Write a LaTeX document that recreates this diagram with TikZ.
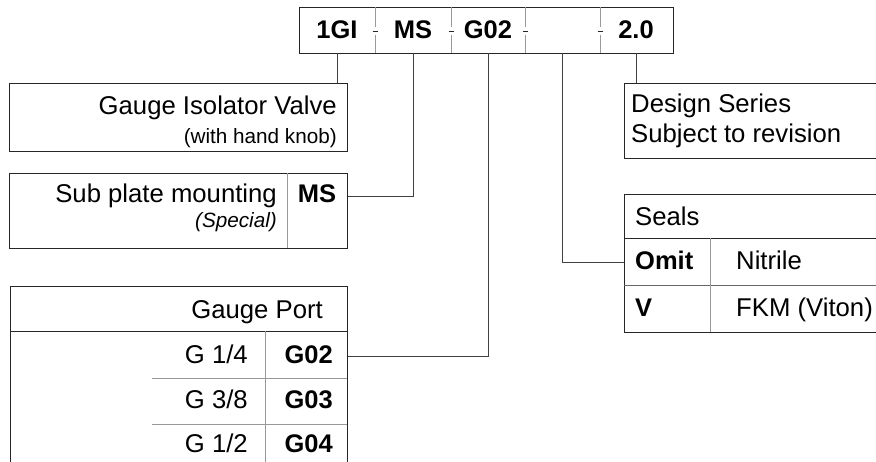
\documentclass[tikz,border=0pt]{standalone}
\usepackage{fontspec}
\setmainfont{Liberation Sans}
\usetikzlibrary{positioning,calc}
\tikzset{
  boxline/.style={draw=black!85,line width=1pt},
  gridline/.style={draw=black!40,line width=1pt},
  rowline/.style={draw=black!60,line width=1pt},
  link/.style={draw=black!75,line width=1pt},
  bigtxt/.style={font=\fontsize{25.7}{30}\selectfont,inner sep=0pt},
  smalltxt/.style={font=\fontsize{20.7}{24}\selectfont,inner sep=0pt},
  codetxt/.style={font=\fontsize{25.5}{30}\selectfont\bfseries,inner sep=0pt}
}
\begin{document}
\begin{tikzpicture}[x=1pt,y=-1pt]
\useasboundingbox (0,0) rectangle (876,461);
\clip (0,0) rectangle (876,461);
\draw[boxline] (299,7) rectangle (673,53);
\foreach \x/\n/\t in {337/c1/1GI, 413/c2/MS, 488/c3/G02, 562/c4/{}, 636/c5/2.0}
  \node[codetxt,minimum width=74pt,minimum height=46pt] (\n) at (\x,30) {\t};
\foreach \x in {375,451,525,600} {
  \draw[gridline] (\x,7) -- (\x,27) (\x,35) -- (\x,53);
  \draw[boxline] (\x-2.5,31) -- (\x+2.5,31);
}
\node[boxline,minimum width=338pt,minimum height=68pt,anchor=north west] (valve) at (9,83) {};
\node[bigtxt,anchor=base east] (valvename) at (337,114) {Gauge Isolator Valve};
\node[smalltxt,anchor=base east] (valvenote) at (337,143) {(with hand knob)};
\draw[link] (c1.south) -- (c1.south |- valve.north);
\node[boxline,minimum width=338pt,minimum height=75pt,anchor=north west] (mount) at (9,173) {};
\draw[gridline] (287,173) -- (287,248);
\node[bigtxt,anchor=base east] (mountname) at (277,202) {Sub plate mounting};
\node[smalltxt,anchor=base east] (mountnote) at (277,227) {\itshape (Special)};
\node[codetxt,anchor=base] (mscode) at (317,202) {MS};
\coordinate (msmid) at ($(mscode.base)+(0,-6)$);
\draw[link] (mount.east |- msmid) -| (c2.south);
\node[boxline,minimum width=337pt,minimum height=200pt,anchor=north west] (port) at (10,286) {};
\draw[boxline] (10,331) -- (347,331);
\draw[gridline] (265,331) -- (265,470);
\foreach \y in {378,424} \draw[gridline] (152,\y) -- (347,\y);
\node[bigtxt,anchor=base east] (porthead) at (323,318) {Gauge Port};
\foreach \y/\s/\c/\n in {363/{G 1/4}/G02/1, 408/{G 3/8}/G03/2, 452/{G 1/2}/G04/3} {
  \node[bigtxt,anchor=base east] (portsize\n) at (248,\y) {\s};
  \node[codetxt,anchor=base east] (portcode\n) at (333,\y) {\c};
}
\coordinate (portmid) at ($(portcode1.base)+(0,-7)$);
\draw[link] (port.east |- portmid) -| (c3.south);
\node[boxline,minimum width=300pt,minimum height=75pt,anchor=north west] (design) at (624,83) {};
\node[bigtxt,anchor=base west] (designname) at (631,112) {Design Series};
\node[bigtxt,anchor=base west] (designnote) at (631,142) {Subject to revision};
\draw[link] (c5.south) -- (c5.south |- design.north);
\node[boxline,minimum width=300pt,minimum height=138pt,anchor=north west] (seals) at (624,194) {};
\draw[boxline] (624,238) -- (924,238);
\draw[rowline] (624,285) -- (924,285);
\draw[gridline] (710,238) -- (710,332);
\node[bigtxt,anchor=base west] (sealshead) at (635,225) {Seals};
\foreach \y/\c/\m/\n in {269/Omit/Nitrile/1, 316/V/FKM (Viton)/2} {
  \node[codetxt,anchor=base west] (sealcode\n) at (635,\y) {\c};
  \node[bigtxt,anchor=base west] (sealname\n) at (736,\y) {\m};
}
\coordinate (sealmid) at ($(sealcode1.base)+(0,-7)$);
\draw[link] (c4.south) |- (seals.west |- sealmid);
\end{tikzpicture}
\end{document}
